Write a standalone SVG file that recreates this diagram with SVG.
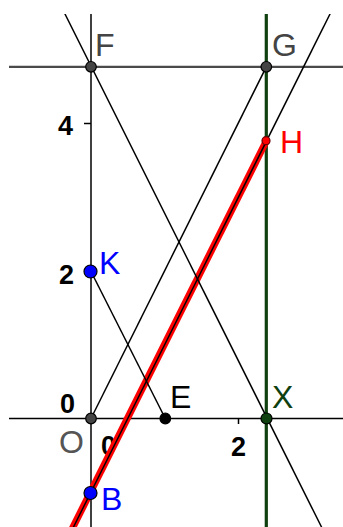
<svg xmlns="http://www.w3.org/2000/svg" width="343" height="527" viewBox="0 0 343 527">
<defs>
<clipPath id="view"><rect x="9" y="14" width="334" height="513"/></clipPath>
<style>
.axis{stroke:#000;stroke-width:1.5;fill:none}
.ln{stroke:#000;stroke-width:1.5;fill:none}
.gray{stroke:#4a4a4a;stroke-width:2.2;fill:none}
.green{stroke:#0f400f;stroke-width:3.2;fill:none}
.red{stroke:#ff0000;stroke-width:7;fill:none}
.num{font-family:"Liberation Sans",Arial,sans-serif;font-size:27px;font-weight:bold;fill:#000}
.lbl{font-family:"Liberation Sans",Arial,sans-serif;font-size:32px}
.pt{stroke:#000;stroke-width:1.2}
</style>
</defs>
<rect width="343" height="527" fill="#fff"/>
<g id="axes" clip-path="url(#view)">
<line class="axis" x1="9" y1="418.5" x2="343" y2="418.5"/>
<line class="axis" x1="91" y1="14" x2="91" y2="527"/>
<line class="axis" x1="84" y1="123.5" x2="91" y2="123.5"/>
<line class="axis" x1="84" y1="271.5" x2="91" y2="271.5"/>
<line class="axis" x1="238.5" y1="418.5" x2="238.5" y2="424"/>
<text class="num" x="58" y="135">4</text>
<text class="num" x="59" y="284">2</text>
<text class="num" x="60" y="413">0</text>
<text class="num" x="101" y="455">0</text>
<text class="num" x="231" y="456">2</text>
</g>
<g id="connectors" clip-path="url(#view)">
<line class="gray" x1="9" y1="66.8" x2="343" y2="66.8"/>
<line class="green" x1="266.3" y1="14" x2="266.3" y2="527"/>
<line class="red" x1="266.3" y1="141" x2="60" y2="553"/>
<line class="ln" x1="58.5" y1="1" x2="330" y2="544"/>
<line class="ln" x1="336.5" y1="1" x2="65" y2="544"/>
<line class="ln" x1="91" y1="418.5" x2="266.3" y2="66.8"/>
<line class="ln" x1="91" y1="271.5" x2="165.3" y2="418.5"/>
</g>
<g id="F"><circle class="pt" cx="91" cy="66.8" r="5.3" fill="#444"/><text class="lbl" x="95" y="56" fill="#444">F</text></g>
<g id="G"><circle class="pt" cx="266.3" cy="66.8" r="5.3" fill="#444"/><text class="lbl" x="272" y="56" fill="#444">G</text></g>
<g id="H"><circle cx="266" cy="140.7" r="4" fill="#ff0000" stroke="#600" stroke-width="1.2"/><text class="lbl" x="280" y="153" fill="#ff0000">H</text></g>
<g id="K"><circle class="pt" cx="90.5" cy="271.5" r="6.5" fill="#0000ff"/><text class="lbl" x="99" y="274" fill="#0000ff">K</text></g>
<g id="O"><circle class="pt" cx="91" cy="418.5" r="5.3" fill="#444"/><text class="lbl" x="59" y="453" fill="#555">O</text></g>
<g id="E"><circle class="pt" cx="165.3" cy="418.5" r="5.3" fill="#000"/><text class="lbl" x="170" y="408" fill="#000">E</text></g>
<g id="X"><circle class="pt" cx="266.5" cy="418.5" r="5.5" fill="#0f400f"/><text class="lbl" x="272" y="408" fill="#0f400f">X</text></g>
<g id="B"><circle class="pt" cx="90.5" cy="493" r="6.5" fill="#0000ff"/><text class="lbl" x="101" y="510" fill="#0000ff">B</text></g>
</svg>
